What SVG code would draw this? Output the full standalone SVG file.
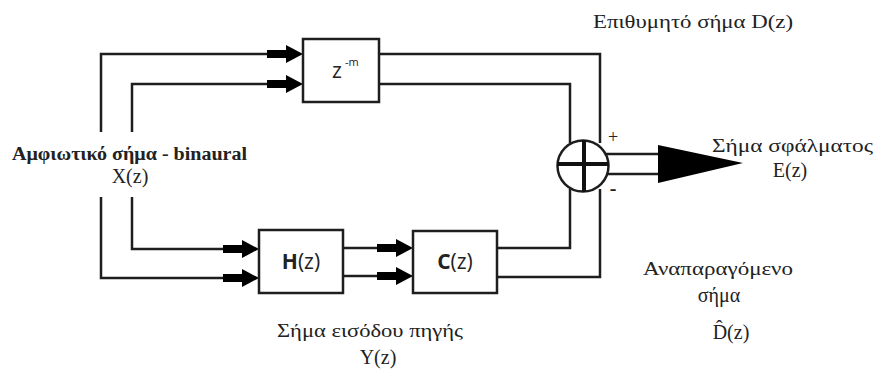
<svg xmlns="http://www.w3.org/2000/svg" width="877" height="374" viewBox="0 0 877 374">
<defs>
<style>
.w{fill:none;stroke:#1e1e1e;stroke-width:2.5}
.box{fill:#fff;stroke:#1e1e1e;stroke-width:2.5}
.t{font-family:"Liberation Serif","DejaVu Serif",serif;font-size:18px;fill:#222}
.u{font-size:20px}
.s{font-family:"Open Sans","Liberation Sans",sans-serif;font-size:21px;fill:#222}
</style>
<g id="arr"><rect x="-36" y="-4" width="20" height="8" fill="#000"/><polygon points="-17,-9 0,0 -17,9" fill="#000"/></g>
</defs>
<rect width="877" height="374" fill="#fff"/>
<g id="connectors">
<polyline class="w" points="101,132 101,54 290,54"/>
<polyline class="w" points="132,132 132,84 290,84"/>
<polyline class="w" points="101,197 101,278 246,278"/>
<polyline class="w" points="132,197 132,249 246,249"/>
<line class="w" x1="343" y1="248" x2="400" y2="248"/>
<line class="w" x1="343" y1="276" x2="400" y2="276"/>
<polyline class="w" points="379,54 600,54 600,143"/>
<polyline class="w" points="379,84 570,84 570,143"/>
<polyline class="w" points="497,248 570,248 570,189"/>
<polyline class="w" points="497,277 600,277 600,189"/>
<line class="w" x1="606" y1="154" x2="660" y2="154"/>
<line class="w" x1="606" y1="174" x2="660" y2="174"/>
<use href="#arr" x="303" y="54"/>
<use href="#arr" x="303" y="84"/>
<use href="#arr" x="259" y="249"/>
<use href="#arr" x="259" y="278"/>
<use href="#arr" x="413" y="248"/>
<use href="#arr" x="413" y="276"/>
<polygon points="658,145 743,163 658,183" fill="#000"/>
</g>
<g id="delay">
<rect class="box" x="303" y="39" width="76" height="63"/>
<text class="s" x="332" y="78">z</text><text class="s" x="345" y="66" style="font-size:11px">-m</text>
</g>
<g id="H">
<rect class="box" x="259" y="230" width="84" height="63"/>
<text class="s" x="301" y="269" text-anchor="middle"><tspan font-weight="bold">H</tspan>(z)</text>
</g>
<g id="C">
<rect class="box" x="413" y="231" width="84" height="62"/>
<text class="s" x="455" y="269" text-anchor="middle"><tspan font-weight="bold">C</tspan>(z)</text>
</g>
<g id="sum">
<circle cx="583" cy="166" r="25.5" fill="#fff" stroke="#1e1e1e" stroke-width="2.5"/>
<line x1="557" y1="164" x2="609" y2="164" stroke="#111" stroke-width="4"/>
<line x1="584" y1="140" x2="584" y2="192" stroke="#111" stroke-width="4"/>
<text class="t" x="613" y="143" text-anchor="middle" style="font-size:18px">+</text>
<text class="t" x="613" y="195" text-anchor="middle" style="font-size:20px;font-weight:bold">-</text>
</g>
<g id="labels">
<text class="t" x="12" y="160" textLength="235" lengthAdjust="spacingAndGlyphs" style="font-weight:bold">Αμφιωτικό σήμα - binaural</text>
<text class="t u" x="130" y="183" text-anchor="middle">X(z)</text>
<text class="t" x="593" y="28" textLength="200" lengthAdjust="spacingAndGlyphs">Επιθυμητό σήμα D(z)</text>
<text class="t" x="712" y="152" textLength="161" lengthAdjust="spacingAndGlyphs">Σήμα σφάλματος</text>
<text class="t u" x="790" y="177" text-anchor="middle">E(z)</text>
<text class="t" x="277" y="337" textLength="186" lengthAdjust="spacingAndGlyphs">Σήμα εισόδου πηγής</text>
<text class="t u" x="378" y="364" text-anchor="middle">Y(z)</text>
<text class="t" x="643" y="275" textLength="150" lengthAdjust="spacingAndGlyphs">Αναπαραγόμενο</text>
<text class="t u" x="719" y="302" text-anchor="middle">σήμα</text>
<text class="t u" x="731" y="339" text-anchor="middle">D&#x302;(z)</text>
</g>
</svg>
